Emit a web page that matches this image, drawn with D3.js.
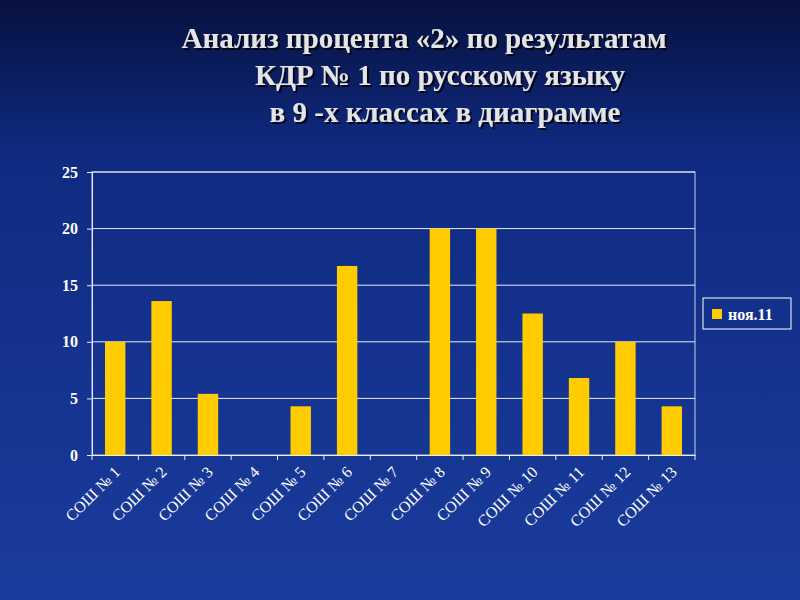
<!DOCTYPE html>
<html><head><meta charset="utf-8">
<script src="https://cdn.jsdelivr.net/npm/d3@7"></script>
<style>body{margin:0}svg{display:block}</style></head>
<body><svg id="c" width="800" height="600"></svg>
<script>
const categories = ["СОШ № 1","СОШ № 2","СОШ № 3","СОШ № 4","СОШ № 5","СОШ № 6","СОШ № 7","СОШ № 8","СОШ № 9","СОШ № 10","СОШ № 11","СОШ № 12","СОШ № 13"];
const values = [10, 13.6, 5.4, 0, 4.3, 16.7, 0, 20, 20, 12.5, 6.8, 10, 4.3];
const yTicks = [0,5,10,15,20,25];
const seriesName = "ноя.11";
const titleLines = ["Анализ процента «2» по результатам","КДР № 1 по русскому языку","в 9 -х  классах в диаграмме"];

const svg = d3.select("#c");
const defs = svg.append("defs");
const g = defs.append("linearGradient").attr("id","bg").attr("x1",0).attr("y1",0).attr("x2",0).attr("y2",1);
g.append("stop").attr("offset","0%").attr("stop-color","#07113f");
g.append("stop").attr("offset","25%").attr("stop-color","#0f2a80");
g.append("stop").attr("offset","100%").attr("stop-color","#1a3c9e");
const f = defs.append("filter").attr("id","sh").attr("x","-10%").attr("y","-30%").attr("width","120%").attr("height","160%");
f.append("feDropShadow").attr("dx",2).attr("dy",2).attr("stdDeviation",0.5).attr("flood-color","#000").attr("flood-opacity",0.8);
svg.append("rect").attr("width",800).attr("height",600).attr("fill","url(#bg)");

const tx = [424, 440, 445], ty = [48, 85, 122];
titleLines.forEach((t,i)=>{
  svg.append("text").attr("x",tx[i]).attr("y",ty[i]).attr("text-anchor","middle").attr("filter","url(#sh)")
    .attr("font-family","Liberation Serif").attr("font-weight","bold").attr("font-size",29).attr("fill","#e4e4e4").text(t);
});

const L=92,R=695,T=172,B=455;
const x = d3.scaleBand().domain(categories).range([L,R]).paddingInner(0.56).paddingOuter(0.28);
const y = d3.scaleLinear().domain([0,25]).range([B,T]);

svg.append("rect").attr("x",L).attr("y",T).attr("width",R-L).attr("height",B-T).attr("fill","none").attr("stroke","#c8d0e8").attr("stroke-width",1);
svg.selectAll(".gl").data(yTicks.slice(1)).enter().append("line")
  .attr("x1",L).attr("x2",R).attr("y1",d=>y(d)).attr("y2",d=>y(d)).attr("stroke","#e8ecf8").attr("stroke-width",1);

svg.selectAll(".bar").data(values).enter().append("rect")
  .attr("x",(d,i)=>x(categories[i])).attr("width",x.bandwidth())
  .attr("y",d=>y(d)).attr("height",d=>B-y(d)).attr("fill","#ffcc00");

const ya = svg.append("g").attr("transform",`translate(${L},0)`).call(d3.axisLeft(y).tickValues(yTicks).tickSize(5).tickPadding(9));
ya.select(".domain").attr("stroke","#e8ecf8");
ya.selectAll("line").attr("stroke","#e8ecf8");
ya.selectAll("text").attr("fill","#fff").attr("font-family","Liberation Serif").attr("font-weight","bold").attr("font-size",16);

const step = (R-L)/categories.length;
const xa = svg.append("g").attr("transform",`translate(0,${B})`)
  .call(d3.axisBottom(x).tickSize(0).tickFormat(""));
xa.select(".domain").attr("stroke","#e8ecf8");
svg.selectAll(".xt").data(d3.range(categories.length+1)).enter().append("line")
  .attr("x1",i=>L+i*step).attr("x2",i=>L+i*step).attr("y1",B).attr("y2",B+5).attr("stroke","#e8ecf8");
svg.selectAll(".xl").data(categories).enter().append("text")
  .attr("transform",d=>`translate(${x(d)+x.bandwidth()/2+6},${B+18}) rotate(-45)`)
  .attr("text-anchor","end").attr("font-family","Liberation Serif").attr("font-size",16).attr("fill","#fff").text(d=>d);

svg.append("rect").attr("x",703).attr("y",298).attr("width",88).attr("height",31).attr("fill","none").attr("stroke","#fff");
svg.append("rect").attr("x",712).attr("y",309).attr("width",10).attr("height",10).attr("fill","#ffcc00");
svg.append("text").attr("x",728).attr("y",320).attr("font-family","Liberation Serif").attr("font-weight","bold").attr("font-size",16).attr("fill","#fff").text(seriesName);
</script></body></html>
